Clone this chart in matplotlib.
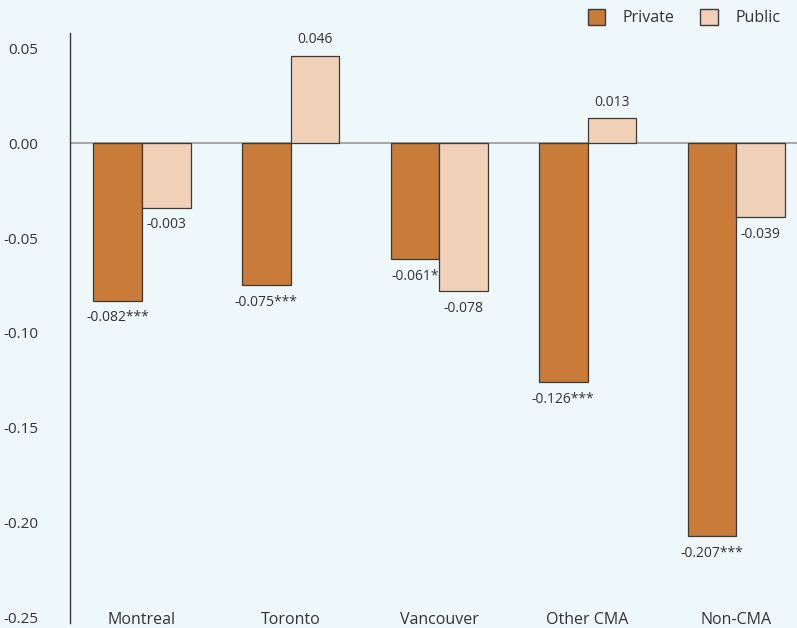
import matplotlib
matplotlib.use('Agg')
import matplotlib.pyplot as plt
from matplotlib.patches import Patch
import numpy as np

matplotlib.rcParams['font.family'] = ['Open Sans', 'DejaVu Sans']

# data
regions = ['Montreal', 'Toronto', 'Vancouver', 'Other CMA', 'Non-CMA']
private_vals = [-0.083, -0.075, -0.061, -0.126, -0.207]
public_vals = [-0.034, 0.046, -0.078, 0.013, -0.039]
private_labels = ['-0.082***', '-0.075***', '-0.061*', '-0.126***', '-0.207***']
public_labels = ['-0.003', '0.046', '-0.078', '0.013', '-0.039']
yticks = [0.05, 0.0, -0.05, -0.10, -0.15, -0.20, -0.25]

bg = '#eef7f9'
c_private = '#c97b3a'
c_public = '#f0d0b7'
txt = '#333333'

fig = plt.figure(figsize=(7.97, 6.28), dpi=100, facecolor=bg)
ax = fig.add_axes([70 / 797, 5 / 628, 727 / 797, 590 / 628])
ax.set_facecolor(bg)

x = np.arange(len(regions))
w = 0.327
b1 = ax.bar(x - w / 2, private_vals, w, color=c_private, edgecolor='#3a3a3a', linewidth=0.9, zorder=2)
b2 = ax.bar(x + w / 2, public_vals, w, color=c_public, edgecolor='#3a3a3a', linewidth=0.9, zorder=2)

ax.axhline(0, color='#9a9a9a', linewidth=1.2, zorder=1)

for bars, labels in [(b1, private_labels), (b2, public_labels)]:
    for bar, lab in zip(bars, labels):
        h = bar.get_height()
        cx = bar.get_x() + bar.get_width() / 2
        if h >= 0:
            ax.annotate(lab, (cx, h), xytext=(0, 6), textcoords='offset points',
                        ha='center', va='bottom', fontsize=10, color=txt)
        else:
            ax.annotate(lab, (cx, h), xytext=(0, -7), textcoords='offset points',
                        ha='center', va='top', fontsize=10, color=txt)

ax.set_xlim(-0.485, 4.41)
ax.set_ylim(-0.2528, 0.058)
ax.set_yticks(yticks)
ax.set_yticklabels(['%.2f' % v for v in yticks])
ax.set_xticks(x)
ax.set_xticklabels(regions)
ax.tick_params(axis='y', length=0, pad=23, labelsize=11, labelcolor=txt)
ax.tick_params(axis='x', length=0, pad=-8, labelsize=11.5, labelcolor=txt)

for s in ['top', 'right', 'bottom']:
    ax.spines[s].set_visible(False)
ax.spines['left'].set_color('#3a3a3a')
ax.spines['left'].set_linewidth(1.0)

handles = [Patch(facecolor=c_private, edgecolor='#3a3a3a', label='Private'),
           Patch(facecolor=c_public, edgecolor='#3a3a3a', label='Public')]
fig.legend(handles=handles, loc='upper right', bbox_to_anchor=(0.997, 1.008), ncol=2,
           frameon=False, fontsize=11.5, handlelength=1.1, handleheight=1.1,
           handletextpad=1.1, columnspacing=1.6, labelcolor=txt)

fig.savefig('out.png', dpi=100, facecolor=bg)
